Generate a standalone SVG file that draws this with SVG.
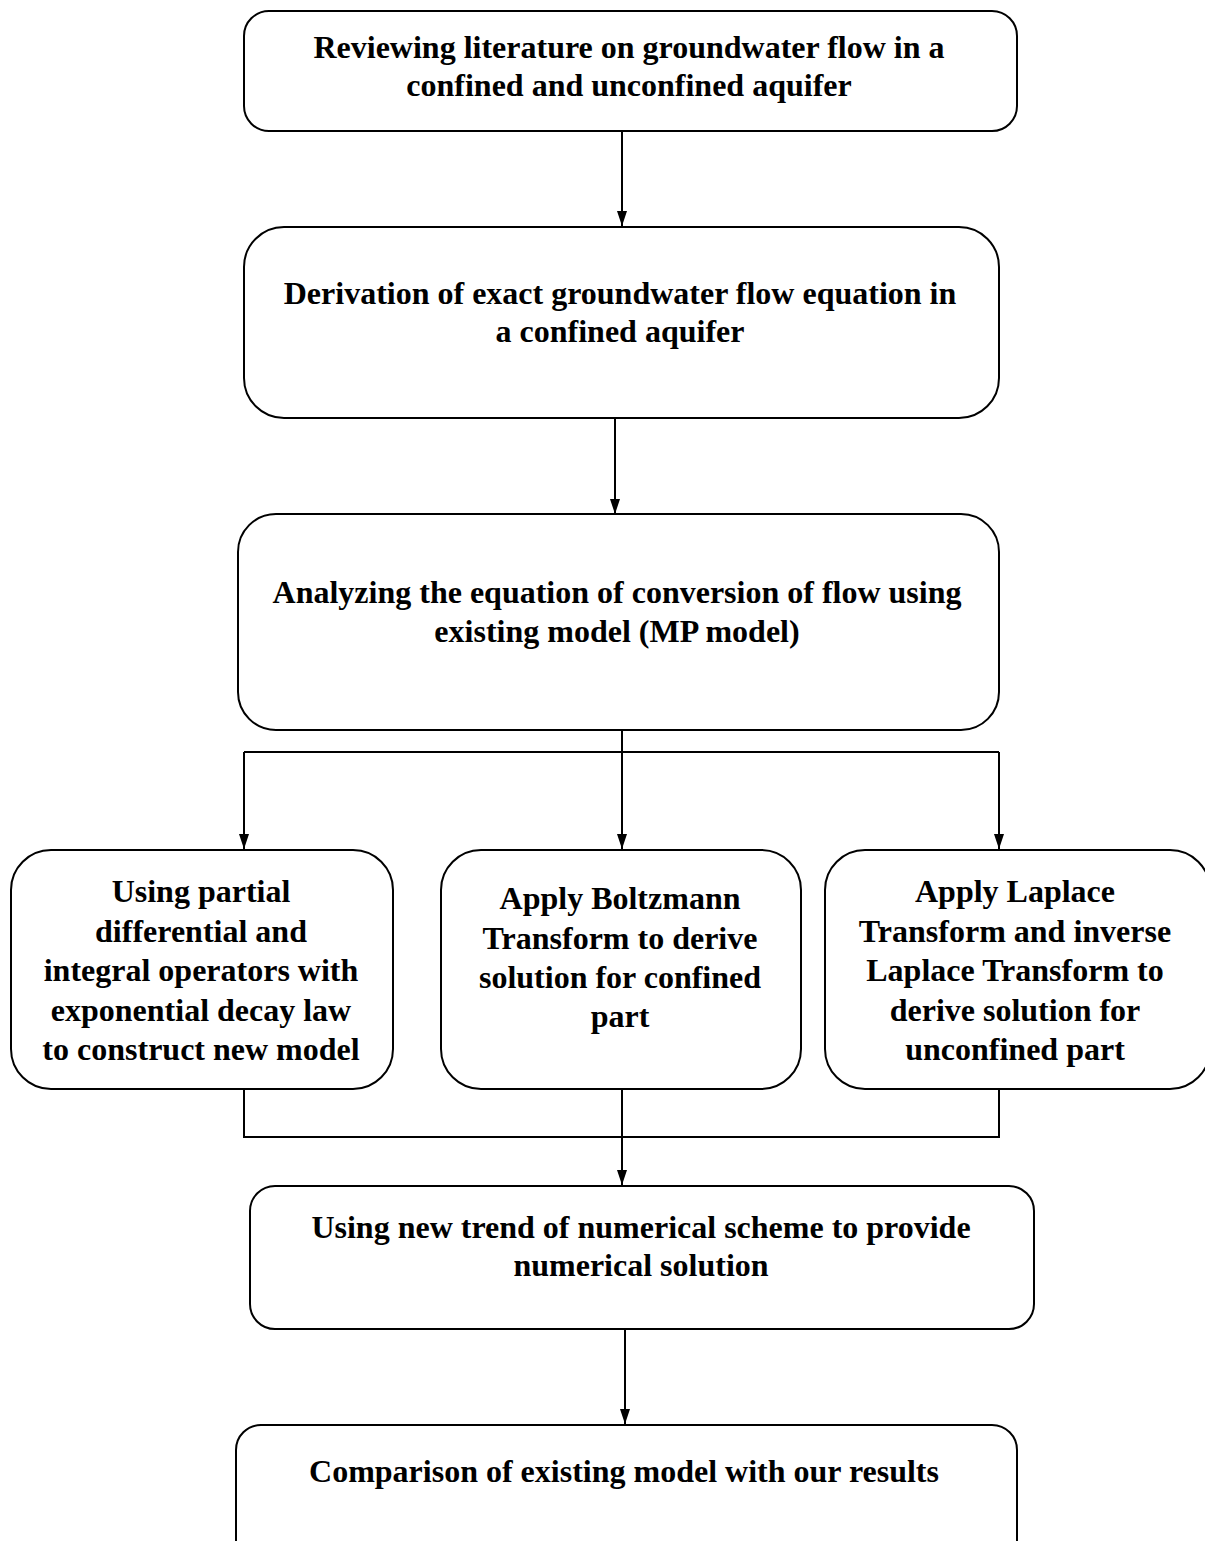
<svg xmlns="http://www.w3.org/2000/svg" width="1205" height="1541" viewBox="0 0 1205 1541">
<style>
.box{fill:#fff;stroke:#000;stroke-width:2}
.t{font-family:"Liberation Serif","Times New Roman",serif;font-weight:bold;font-size:32px;fill:#000;text-anchor:middle}
.c{fill:none;stroke:#000;stroke-width:2}
</style>
<rect width="1205" height="1541" fill="#fff"/>
<g id="connectors">
<path class="c" d="M622,131 V226"/>
<path class="c" d="M615,418 V514"/>
<path class="c" d="M622,730 V849"/>
<path class="c" d="M244,752 H999"/>
<path class="c" d="M244,752 V849"/>
<path class="c" d="M999,752 V849"/>
<path class="c" d="M244,1089 V1137 H999 V1089"/>
<path class="c" d="M622,1089 V1185"/>
<path class="c" d="M625,1329 V1424"/>
<path d="M617,211 L627,211 L622,226 Z"/>
<path d="M610,499 L620,499 L615,514 Z"/>
<path d="M239,834 L249,834 L244,849 Z"/>
<path d="M617,834 L627,834 L622,849 Z"/>
<path d="M994,834 L1004,834 L999,849 Z"/>
<path d="M617,1170 L627,1170 L622,1185 Z"/>
<path d="M620,1409 L630,1409 L625,1424 Z"/>
</g>
<g id="n1">
<rect class="box" x="244" y="11" width="773" height="120" rx="25"/>
<text class="t" x="629" y="58">Reviewing literature on groundwater flow in a</text>
<text class="t" x="629" y="96">confined and unconfined aquifer</text>
</g>
<g id="n2">
<rect class="box" x="244" y="227" width="755" height="191" rx="40"/>
<text class="t" x="620" y="304">Derivation of exact groundwater flow equation in</text>
<text class="t" x="620" y="342">a confined aquifer</text>
</g>
<g id="n3">
<rect class="box" x="238" y="514" width="761" height="216" rx="38"/>
<text class="t" x="617" y="603">Analyzing the equation of conversion of flow using</text>
<text class="t" x="617" y="642">existing model (MP model)</text>
</g>
<g id="n4">
<rect class="box" x="11" y="850" width="382" height="239" rx="40"/>
<text class="t" x="201" y="902">Using partial</text>
<text class="t" x="201" y="942">differential and</text>
<text class="t" x="201" y="981">integral operators with</text>
<text class="t" x="201" y="1021">exponential decay law</text>
<text class="t" x="201" y="1060">to construct new model</text>
</g>
<g id="n5">
<rect class="box" x="441" y="850" width="360" height="239" rx="40"/>
<text class="t" x="620" y="909">Apply Boltzmann</text>
<text class="t" x="620" y="949">Transform to derive</text>
<text class="t" x="620" y="988">solution for confined</text>
<text class="t" x="620" y="1027">part</text>
</g>
<g id="n6">
<rect class="box" x="825" y="850" width="385" height="239" rx="40"/>
<text class="t" x="1015" y="902">Apply Laplace</text>
<text class="t" x="1015" y="942">Transform and inverse</text>
<text class="t" x="1015" y="981">Laplace Transform to</text>
<text class="t" x="1015" y="1021">derive solution for</text>
<text class="t" x="1015" y="1060">unconfined part</text>
</g>
<g id="n7">
<rect class="box" x="250" y="1186" width="784" height="143" rx="25"/>
<text class="t" x="641" y="1238">Using new trend of numerical scheme to provide</text>
<text class="t" x="641" y="1276">numerical solution</text>
</g>
<g id="n8">
<rect class="box" x="236" y="1425" width="781" height="140" rx="25"/>
<text class="t" x="624" y="1482">Comparison of existing model with our results</text>
</g>
</svg>
